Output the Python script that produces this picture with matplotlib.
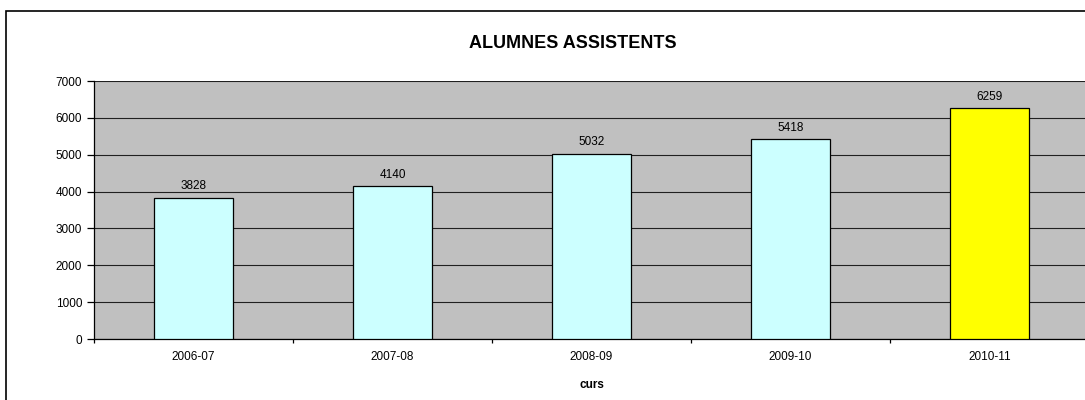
import matplotlib
matplotlib.use("Agg")
import matplotlib.pyplot as plt
from matplotlib.patches import Rectangle

plt.rcParams['font.family'] = ['Liberation Sans', 'DejaVu Sans']

courses = ["2006-07", "2007-08", "2008-09", "2009-10", "2010-11"]
students = [3828, 4140, 5032, 5418, 6259]
bar_colors = ["#CCFFFF", "#CCFFFF", "#CCFFFF", "#CCFFFF", "#FFFF00"]

fig = plt.figure(figsize=(10.85, 4.0), dpi=100)

# outer chart frame
fig.patches.append(Rectangle((6 / 1085, -0.1), 1.2, (400 - 11) / 400 + 0.1,
                             transform=fig.transFigure, fill=False,
                             edgecolor="black", linewidth=1.2, zorder=0))

ax = fig.add_axes([94 / 1085, 61 / 400, 995 / 1085, 258 / 400])
ax.set_facecolor("#C0C0C0")

x = list(range(len(courses)))
ax.bar(x, students, width=0.4, color=bar_colors, edgecolor="black",
       linewidth=0.9, zorder=3)
for xi, v in zip(x, students):
    ax.text(xi, v + 150, f"{v}", ha="center", va="bottom", fontsize=8.5, zorder=4)

ax.set_xlim(-0.5, len(courses) - 0.5)
ax.set_ylim(0, 7000)
ax.set_yticks(range(0, 7001, 1000))
ax.yaxis.grid(True, color="#202020", linewidth=0.8, zorder=1)
ax.set_axisbelow(True)

ax.set_xticks(x)
ax.set_xticklabels(courses, fontsize=8.5)
ax.tick_params(axis="x", length=0, pad=9)
ax.set_xticks([i + 0.5 for i in range(-1, len(courses))], minor=True)
ax.tick_params(axis="x", which="minor", length=3, direction="out", width=0.9)
ax.tick_params(axis="y", labelsize=8.5, length=5, width=0.9, direction="out")

for side in ("top", "right"):
    ax.spines[side].set_visible(False)
ax.spines["left"].set_linewidth(0.9)
ax.spines["bottom"].set_linewidth(0.9)

ax.set_xlabel("curs", fontsize=8.5, fontweight="bold", labelpad=11)
fig.text(573 / 1085, 1 - 43 / 400, "ALUMNES ASSISTENTS", ha="center",
         va="center", fontsize=13, fontweight="bold")

fig.savefig("out.png", dpi=100)
